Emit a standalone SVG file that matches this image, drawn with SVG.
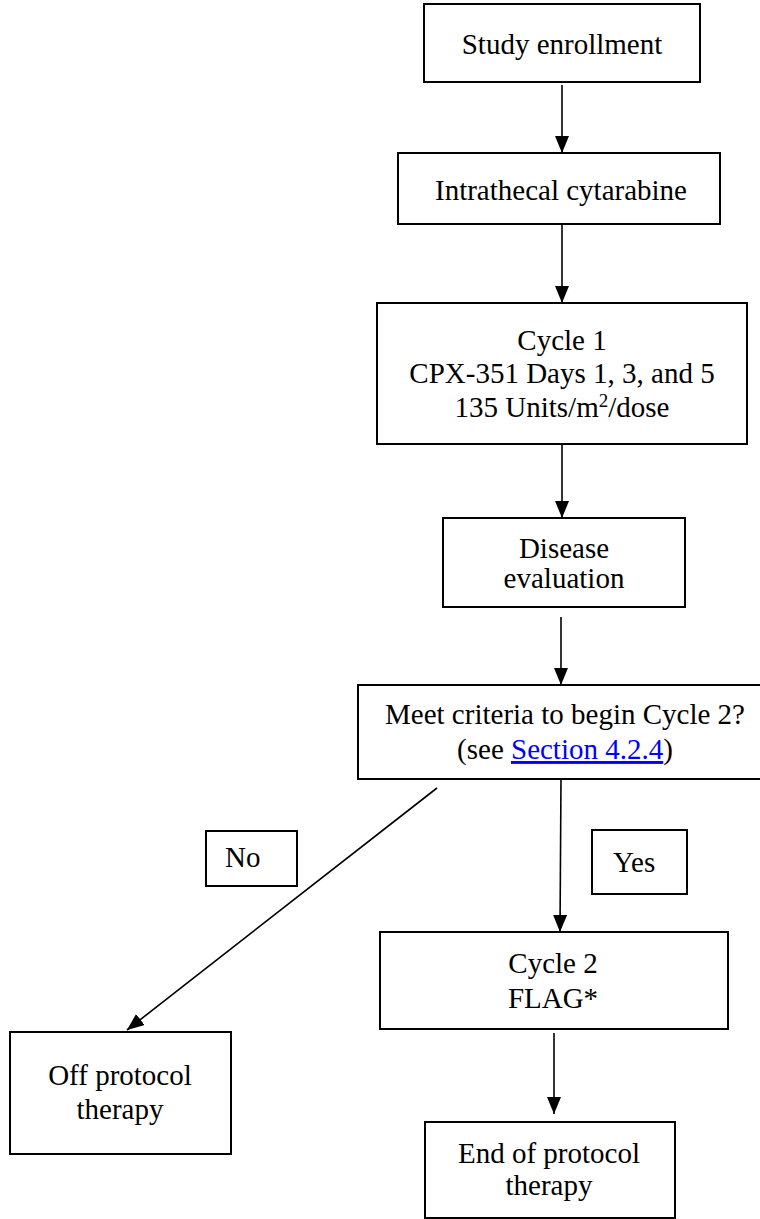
<svg xmlns="http://www.w3.org/2000/svg" width="760" height="1219" viewBox="0 0 760 1219">
<style>
.box{fill:#fff;stroke:#000;stroke-width:2}
.t{font-family:"Liberation Serif","Times New Roman",serif;font-size:29px;fill:#000;text-anchor:middle}
.l{font-family:"Liberation Serif","Times New Roman",serif;font-size:29px;fill:#000}
.c{stroke:#000;stroke-width:1.6;fill:none}
.link{fill:#0000ff;text-decoration:underline}
</style>
<defs>
<marker id="ah" markerUnits="userSpaceOnUse" markerWidth="18" markerHeight="14" refX="17" refY="7" orient="auto">
<path d="M0,0 L17,7 L0,14 z" fill="#000"/>
</marker>
</defs>
<rect width="760" height="1219" fill="#fff"/>
<g id="connectors">
<line class="c" x1="562" y1="85" x2="562" y2="153" marker-end="url(#ah)"/>
<line class="c" x1="562" y1="225" x2="562" y2="303" marker-end="url(#ah)"/>
<line class="c" x1="562" y1="444" x2="562" y2="518" marker-end="url(#ah)"/>
<line class="c" x1="561" y1="617" x2="561" y2="685" marker-end="url(#ah)"/>
<line class="c" x1="437" y1="788" x2="127" y2="1030" marker-end="url(#ah)"/>
<line class="c" x1="561" y1="779" x2="560" y2="932" marker-end="url(#ah)"/>
<line class="c" x1="554" y1="1033" x2="554" y2="1114" marker-end="url(#ah)"/>
</g>
<g id="study-enrollment">
<rect class="box" x="424" y="4" width="276" height="78"/>
<text class="t" x="562" y="54">Study enrollment</text>
</g>
<g id="intrathecal">
<rect class="box" x="398" y="153" width="322" height="71"/>
<text class="t" x="561" y="200">Intrathecal cytarabine</text>
</g>
<g id="cycle1">
<rect class="box" x="377" y="303" width="370" height="141"/>
<text class="t" x="562" y="350">Cycle 1</text>
<text class="t" x="562" y="383">CPX-351 Days 1, 3, and 5</text>
<text class="t" x="562" y="417">135 Units/m<tspan dy="-10" font-size="19">2</tspan><tspan dy="10">/dose</tspan></text>
</g>
<g id="disease-evaluation">
<rect class="box" x="443" y="518" width="242" height="89"/>
<text class="t" x="564" y="558">Disease</text>
<text class="t" x="564" y="588">evaluation</text>
</g>
<g id="meet-criteria">
<rect class="box" x="358" y="685" width="404" height="94"/>
<text class="t" x="565" y="724">Meet criteria to begin Cycle 2?</text>
<text class="t" x="565" y="759">(see <tspan class="link">Section 4.2.4</tspan>)</text>
</g>
<g id="no-label">
<rect class="box" x="206" y="831" width="91" height="55"/>
<text class="l" x="225" y="867">No</text>
</g>
<g id="yes-label">
<rect class="box" x="592" y="830" width="95" height="64"/>
<text class="l" x="613" y="872">Yes</text>
</g>
<g id="cycle2">
<rect class="box" x="380" y="932" width="348" height="97"/>
<text class="t" x="553" y="973">Cycle 2</text>
<text class="t" x="553" y="1008">FLAG*</text>
</g>
<g id="off-protocol">
<rect class="box" x="10" y="1032" width="221" height="122"/>
<text class="t" x="120" y="1085">Off protocol</text>
<text class="t" x="120" y="1119">therapy</text>
</g>
<g id="end-protocol">
<rect class="box" x="425" y="1122" width="250" height="96"/>
<text class="t" x="549" y="1163">End of protocol</text>
<text class="t" x="549" y="1195">therapy</text>
</g>
</svg>
